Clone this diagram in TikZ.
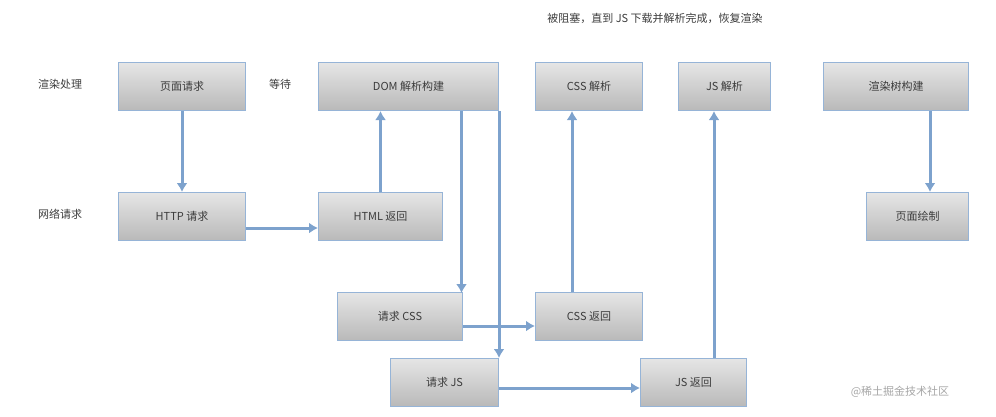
\documentclass[tikz,border=0pt]{standalone}
\usepackage{fontspec}
\setmainfont{Noto Sans CJK SC}
\usetikzlibrary{arrows.meta}
\definecolor{flowblue}{RGB}{125,162,205}
\definecolor{boxedge}{RGB}{150,180,215}
\definecolor{labelgray}{RGB}{60,60,60}
\tikzset{
  stage/.style={draw=boxedge, line width=1pt, top color=gray!20, bottom color=gray!55,
    text=labelgray, font=\fontsize{11}{13}\selectfont, anchor=north west, inner sep=0pt},
  flow/.style={-{Latex[length=9pt,width=11pt]}, line width=3pt, flowblue},
  side/.style={text=labelgray, font=\fontsize{11}{13}\selectfont}
}
\begin{document}
\begin{tikzpicture}[x=1pt,y=-1pt]
  \useasboundingbox (0,0) rectangle (996,416);
  % upper row
  \node[stage, minimum width=127, minimum height=48] (pagereq) at (118,62) {页面请求};
  \node[stage, minimum width=180, minimum height=48] (domparse) at (318,62) {DOM 解析构建};
  \node[stage, minimum width=107, minimum height=48] (cssparse) at (535,62) {CSS 解析};
  \node[stage, minimum width=92, minimum height=48] (jsparse) at (678,62) {JS 解析};
  \node[stage, minimum width=145, minimum height=48] (rendertree) at (823,62) {渲染树构建};
  % network row
  \node[stage, minimum width=127, minimum height=48] (httpreq) at (118,192) {HTTP 请求};
  \node[stage, minimum width=124, minimum height=48] (htmlret) at (318,192) {HTML 返回};
  \node[stage, minimum width=102, minimum height=48] (paint) at (866,192) {页面绘制};
  % resources
  \node[stage, minimum width=125, minimum height=48] (cssreq) at (337,292) {请求 CSS};
  \node[stage, minimum width=107, minimum height=48] (cssret) at (535,292) {CSS 返回};
  \node[stage, minimum width=108, minimum height=48] (jsreq) at (390,358) {请求 JS};
  \node[stage, minimum width=106, minimum height=48] (jsret) at (640,358) {JS 返回};
  % side labels
  \node[side] (lblrender) at (60,84) {渲染处理};
  \node[side] (lblwait) at (280,84) {等待};
  \node[side] (lblnet) at (60,214) {网络请求};
  \node[side] (lblblock) at (655,18) {被阻塞，直到 JS 下载并解析完成，恢复渲染};
  \node[text=gray!70, font=\fontsize{11}{13}\selectfont] (mark) at (900,392) {@稀土掘金技术社区};
  % connectors
  \draw[flow] (pagereq.south) -- (httpreq.north);
  \draw[flow] (httpreq.east |- 0,228) -- (htmlret.west |- 0,228);
  \draw[flow] (htmlret.north) -- (htmlret.north |- domparse.south);
  \draw[flow] (cssreq.north east |- domparse.south) ++(-1.5,0) -- ++(0,182);
  \draw[flow] (domparse.south east) ++(0,0) -- (jsreq.north east);
  \draw[flow] (cssreq.east |- 0,326) -- (cssret.west |- 0,326);
  \draw[flow] (cssret.north -| 572,0) -- (cssparse.south -| 572,0);
  \draw[flow] (jsreq.east |- 0,388) -- (jsret.west |- 0,388);
  \draw[flow] (jsret.north -| 714,0) -- (jsparse.south -| 714,0);
  \draw[flow] (rendertree.south -| 930,0) -- (paint.north -| 930,0);
\end{tikzpicture}
\end{document}
